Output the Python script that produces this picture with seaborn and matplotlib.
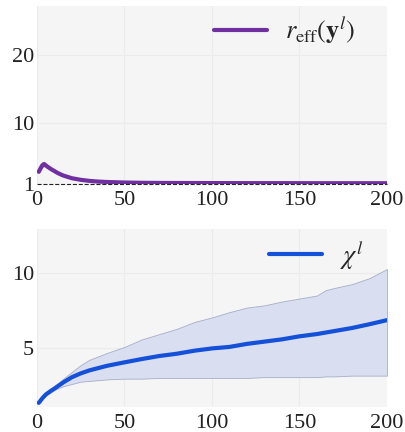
import numpy as np
import pandas as pd
import seaborn as sns
import matplotlib
matplotlib.use("Agg")
import matplotlib.pyplot as plt

# top panel: effective rank of y^l
r_x = [1, 2, 3, 4, 5, 6, 8, 10, 12, 15, 20, 25, 30, 35, 40, 50, 60, 70, 80, 100, 120, 140, 160, 180, 200]
r_mean = [2.8, 3.3, 3.75, 3.95, 3.75, 3.55, 3.2, 2.9, 2.6, 2.25, 1.85, 1.62, 1.46, 1.36, 1.3, 1.22, 1.18, 1.16, 1.15, 1.14, 1.13, 1.13, 1.12, 1.12, 1.12]
r_lo = [2.6, 3.0, 3.4, 3.6, 3.45, 3.3, 3.0, 2.75, 2.5, 2.15, 1.78, 1.57, 1.42, 1.33, 1.28, 1.2, 1.17, 1.15, 1.14, 1.13, 1.12, 1.12, 1.11, 1.11, 1.11]
r_hi = [3.0, 3.6, 4.1, 4.3, 4.05, 3.8, 3.4, 3.05, 2.72, 2.35, 1.92, 1.67, 1.5, 1.39, 1.33, 1.24, 1.2, 1.17, 1.16, 1.15, 1.14, 1.14, 1.13, 1.13, 1.13]

# bottom panel: chi^l
c_x = [1, 3, 5, 8, 10, 15, 20, 25, 30, 40, 50, 60, 70, 80, 90, 100, 110, 120, 130, 140, 150, 160, 165, 170, 180, 190, 200]
c_mean = [1.4, 1.7, 1.95, 2.2, 2.35, 2.75, 3.1, 3.35, 3.55, 3.85, 4.08, 4.3, 4.5, 4.65, 4.85, 5.0, 5.1, 5.3, 5.45, 5.6, 5.8, 5.95, 6.05, 6.15, 6.35, 6.6, 6.87]
c_lo = [1.4, 1.68, 1.9, 2.1, 2.25, 2.5, 2.65, 2.8, 2.85, 2.95, 3.0, 3.0, 3.05, 3.05, 3.05, 3.05, 3.05, 3.05, 3.1, 3.1, 3.1, 3.1, 3.15, 3.15, 3.2, 3.2, 3.2]
c_hi = [1.4, 1.72, 2.0, 2.3, 2.5, 3.0, 3.45, 3.9, 4.25, 4.7, 5.1, 5.6, 5.95, 6.3, 6.75, 7.05, 7.4, 7.7, 7.85, 8.1, 8.3, 8.5, 8.85, 9.0, 9.25, 9.65, 10.25]

df_r = pd.DataFrame({"layer": r_x, "val": r_mean})
df_c = pd.DataFrame({"layer": c_x, "val": c_mean})

sns.set_style("whitegrid", {"axes.facecolor": "#f5f5f5", "grid.color": "#ebebeb"})
plt.rcParams["font.family"] = ["Liberation Serif", "DejaVu Serif"]
plt.rcParams["mathtext.fontset"] = "stix"

fig = plt.figure(figsize=(4.05, 4.32), dpi=100)
ax1 = fig.add_axes([0.0914, 0.574, 0.864, 0.412])
ax2 = fig.add_axes([0.0914, 0.058, 0.864, 0.412])

purple = "#7030a0"
blue = "#1450d8"

# top
ax1.fill_between(r_x, r_lo, r_hi, color="#b8a8c8", alpha=0.6, lw=0.5, zorder=2)
sns.lineplot(data=df_r, x="layer", y="val", ax=ax1, color=purple, lw=3,
             label=r"$r_{\mathrm{eff}}(\mathbf{y}^l)$", zorder=3)
ax1.axhline(1, color="#222222", lw=0.8, ls="--", zorder=4, clip_on=False)
ax1.set_xlim(0, 200)
ax1.set_ylim(1, 27.2)
ax1.set_yticks([1, 10, 20])
ax1.set_xticks([0, 50, 100, 150, 200])

# bottom
ax2.fill_between(c_x, c_lo, c_hi, color="#d5dcf0", alpha=0.85, lw=0.6,
                 edgecolor="#9aa3c0", zorder=2)
sns.lineplot(data=df_c, x="layer", y="val", ax=ax2, color=blue, lw=3,
             label=r"$\chi^l$", zorder=3)
ax2.set_xlim(0, 200)
ax2.set_ylim(1.13, 12.9)
ax2.set_yticks([5, 10])
ax2.set_xticks([0, 50, 100, 150, 200])

anchors = {ax1: (0.91, 0.955), ax2: (0.935, 0.945)}
for ax in (ax1, ax2):
    ax.set_xlabel("")
    ax.set_ylabel("")
    ax.tick_params(labelsize=16, colors="#222222", length=0)
    ax.tick_params(axis="x", pad=5)
    ax.tick_params(axis="y", pad=2)
    for s in ax.spines.values():
        s.set_visible(False)
    ax.grid(True, lw=0.8)
    ax.legend(loc="upper right", bbox_to_anchor=anchors[ax], frameon=False,
              fontsize=19, handlelength=2.0, handletextpad=0.7,
              borderaxespad=0, borderpad=0)

fig.savefig("out.png", dpi=100)
